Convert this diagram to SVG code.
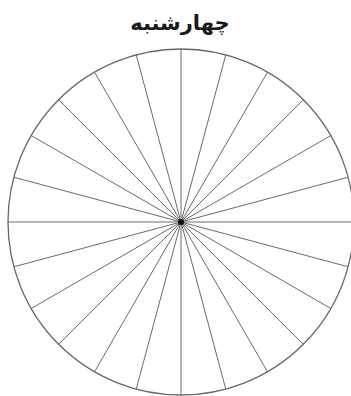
<svg xmlns="http://www.w3.org/2000/svg" width="351" height="396" viewBox="0 0 351 396">
<style>
.title{font-family:"DejaVu Sans","Noto Sans",sans-serif;font-size:21px;font-weight:bold;fill:#1a1a1a;text-anchor:middle}
.spoke{stroke:#6a6a6a;stroke-width:1;fill:none}
.rim{stroke:#666;stroke-width:1.3;fill:none}
</style>
<rect width="351" height="396" fill="#fff"/>
<g id="title"><text class="title" x="180" y="30" direction="rtl">چهارشنبه</text></g>
<g id="wheel">
<circle class="rim" cx="181" cy="222" r="173"/>
<g id="connectors" transform="translate(181 222)">
<line class="spoke" x1="0" y1="-173" x2="0" y2="173"/>
<line class="spoke" x1="-173" y1="0" x2="173" y2="0"/>
<line class="spoke" x1="44.78" y1="-167.11" x2="-44.78" y2="167.11"/>
<line class="spoke" x1="86.5" y1="-149.82" x2="-86.5" y2="149.82"/>
<line class="spoke" x1="122.33" y1="-122.33" x2="-122.33" y2="122.33"/>
<line class="spoke" x1="149.82" y1="-86.5" x2="-149.82" y2="86.5"/>
<line class="spoke" x1="167.11" y1="-44.78" x2="-167.11" y2="44.78"/>
<line class="spoke" x1="-44.78" y1="-167.11" x2="44.78" y2="167.11"/>
<line class="spoke" x1="-86.5" y1="-149.82" x2="86.5" y2="149.82"/>
<line class="spoke" x1="-122.33" y1="-122.33" x2="122.33" y2="122.33"/>
<line class="spoke" x1="-149.82" y1="-86.5" x2="149.82" y2="86.5"/>
<line class="spoke" x1="-167.11" y1="-44.78" x2="167.11" y2="44.78"/>
<circle cx="0" cy="0" r="3" fill="#111"/>
</g>
</g>
</svg>
